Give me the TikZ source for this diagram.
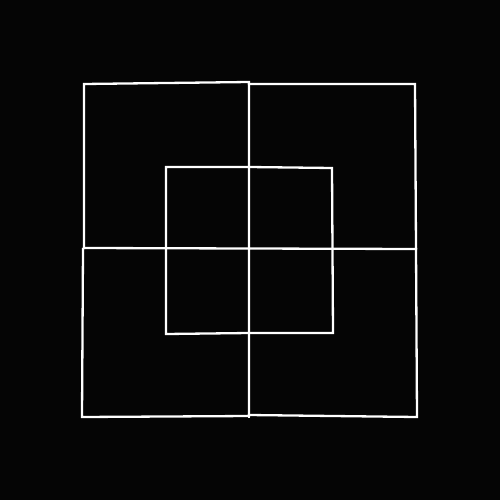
\documentclass[tikz,border=0pt]{standalone}
\begin{document}
\begin{tikzpicture}[x=1pt,y=-1pt,ln/.style={draw=white,line width=2.3pt,line cap=rect,line join=miter}]
\fill[black!98] (0,0) rectangle (500,500);
\useasboundingbox (0,0) rectangle (500,500);
% outer quadrants
\draw[ln] (84,248) -- (84,84) -- (249,82) -- (249,248);
\draw[ln] (249,84) -- (415,84) -- (416,248);
\draw[ln] (83,249) -- (82,417) -- (249,416) -- (249,249);
\draw[ln] (249,415) -- (417,417) -- (416,249);
% middle cross
\draw[ln] (84,248) -- (416,249);
\draw[ln] (249,82) -- (249,417);
% inner square
\draw[ln] (166,167) -- (249,167) -- (332,168) -- (333,333) -- (249,333) -- (166,334) -- cycle;
\end{tikzpicture}
\end{document}
